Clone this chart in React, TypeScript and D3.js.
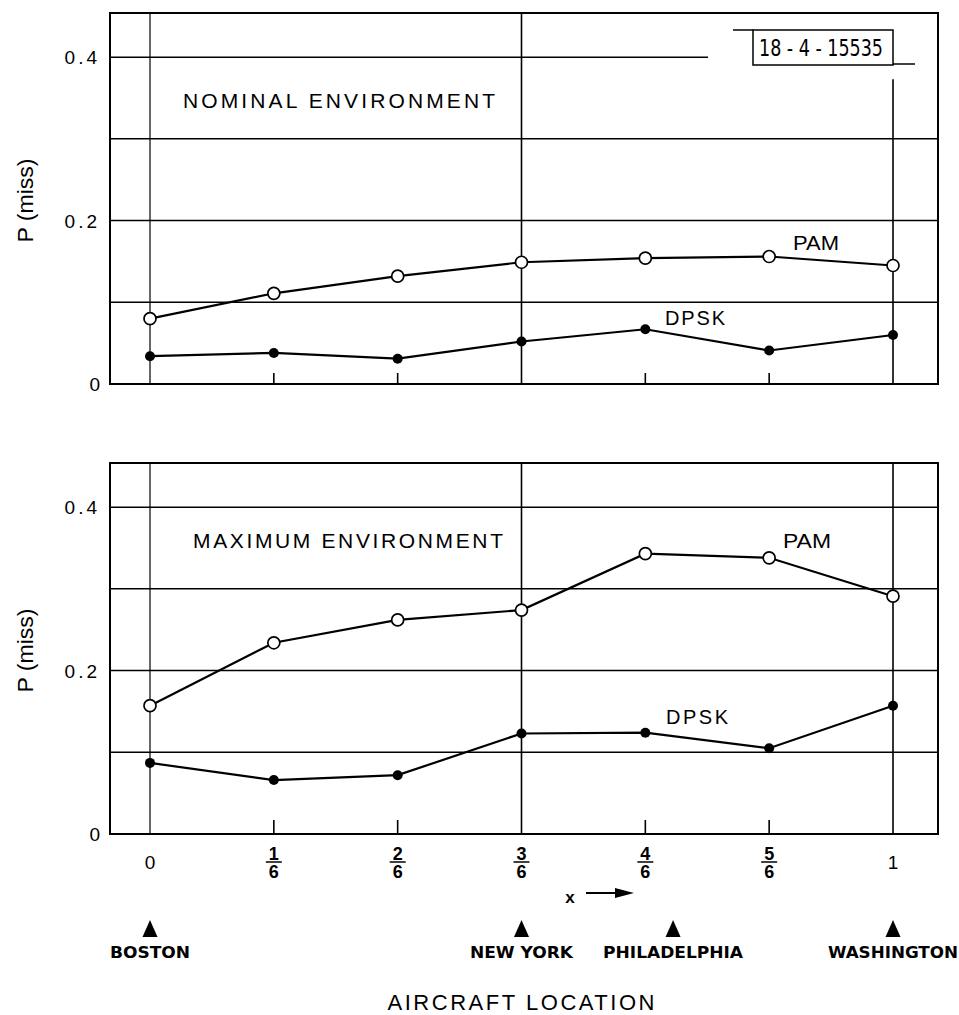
import * as d3 from "d3";

// x positions along the route (fraction of the way Boston -> Washington)
const xValues = [0, 1 / 6, 2 / 6, 3 / 6, 4 / 6, 5 / 6, 1];
const xTickLabels = ["0", "1/6", "2/6", "3/6", "4/6", "5/6", "1"];

const nominalPam = [0.08, 0.111, 0.132, 0.149, 0.154, 0.156, 0.145];
const nominalDpsk = [0.034, 0.038, 0.031, 0.052, 0.067, 0.041, 0.06];
const maximumPam = [0.157, 0.234, 0.262, 0.274, 0.343, 0.338, 0.291];
const maximumDpsk = [0.087, 0.066, 0.072, 0.123, 0.124, 0.105, 0.157];

const yTicks = [0, 0.2, 0.4];
const yTickLabels = ["0", "0.2", "0.4"];
const gridValues = [0.1, 0.2, 0.3, 0.4];

const cityNames = ["BOSTON", "NEW YORK", "PHILADELPHIA", "WASHINGTON"];
const cityPositions = [0, 0.5, 0.704, 1];

const W = 959;
const H = 1015;
const LEFT = 110;
const RIGHT = 938;
const SANS = "'Liberation Sans', Arial, Helvetica, sans-serif";
const NARROW = "'DejaVu Sans Condensed', 'DejaVu Sans', sans-serif";

const x = d3.scaleLinear().domain([0, 1]).range([150, 893]);

type PanelProps = {
  top: number;
  bottom: number;
  title: string;
  titlePos: [number, number, number];
  pam: number[];
  dpsk: number[];
  pamPos: [number, number, number];
  dpskPos: [number, number, number];
  nominal: boolean;
};

const Panel = ({ top, bottom, title, titlePos, pam, dpsk, pamPos, dpskPos, nominal }: PanelProps) => {
  const y = d3.scaleLinear().domain([0, 0.454]).range([bottom, top]);
  const line = d3
    .line<number>()
    .x((_, i) => x(xValues[i]))
    .y((d) => y(d));
  const tickLen = nominal ? 11 : 14;
  const midY = (top + bottom) / 2;

  return (
    <g>
      {/* horizontal grid */}
      {gridValues.map((v) => (
        <line
          key={v}
          x1={LEFT}
          x2={nominal && v === 0.4 ? x(0.751) : RIGHT}
          y1={y(v)}
          y2={y(v)}
          stroke="#000"
          strokeWidth={1.5}
        />
      ))}
      {/* vertical lines at Boston, New York, Washington; short ticks elsewhere */}
      {xValues.map((v, i) =>
        i === 0 || i === 3 || i === 6 ? (
          <line
            key={i}
            x1={x(v)}
            x2={x(v)}
            y1={nominal && i === 6 ? y(0.373) : top}
            y2={bottom}
            stroke="#000"
            strokeWidth={i === 0 ? 1.2 : 1.6}
          />
        ) : (
          <line key={i} x1={x(v)} x2={x(v)} y1={bottom - tickLen} y2={bottom} stroke="#000" strokeWidth={1.6} />
        )
      )}
      <rect x={LEFT} y={top} width={RIGHT - LEFT} height={bottom - top} fill="none" stroke="#000" strokeWidth={2} />

      {yTicks.map((v, i) => (
        <text
          key={v}
          x={100}
          y={y(v) + 7}
          textAnchor="end"
          fontFamily={SANS}
          fontSize={19}
          letterSpacing={v === 0 ? 0 : 3}
        >
          {yTickLabels[i]}
        </text>
      ))}
      <text
        transform={`translate(33, ${midY + 2}) rotate(-90)`}
        textAnchor="middle"
        fontFamily={SANS}
        fontSize={22}
        textLength={84}
        lengthAdjust="spacingAndGlyphs"
      >
        P (miss)
      </text>

      <text x={titlePos[0]} y={titlePos[1]} fontFamily={SANS} fontSize={21} textLength={titlePos[2]} lengthAdjust="spacing">
        {title}
      </text>

      <path d={line(pam) ?? ""} fill="none" stroke="#000" strokeWidth={2.2} />
      <path d={line(dpsk) ?? ""} fill="none" stroke="#000" strokeWidth={2.2} />
      {pam.map((d, i) => (
        <circle key={i} cx={x(xValues[i])} cy={y(d)} r={6} fill="#fff" stroke="#000" strokeWidth={1.7} />
      ))}
      {dpsk.map((d, i) => (
        <circle key={i} cx={x(xValues[i])} cy={y(d)} r={5} fill="#000" />
      ))}
      <text x={pamPos[0]} y={pamPos[1]} fontFamily={SANS} fontSize={20} textLength={pamPos[2]} lengthAdjust="spacingAndGlyphs">
        PAM
      </text>
      <text x={dpskPos[0]} y={dpskPos[1]} fontFamily={SANS} fontSize={20} textLength={dpskPos[2]} lengthAdjust="spacing">
        DPSK
      </text>
    </g>
  );
};

export default function App() {
  const axisBottom = 834;
  return (
    <svg width={W} height={H} viewBox={`0 0 ${W} ${H}`} style={{ position: "absolute", left: 0, top: 0, background: "#fff" }}>
      <rect width={W} height={H} fill="#fff" />
      <Panel
        top={13}
        bottom={384}
        title="NOMINAL ENVIRONMENT"
        titlePos={[183, 108, 312]}
        pam={nominalPam}
        dpsk={nominalDpsk}
        pamPos={[793, 250, 46]}
        dpskPos={[665, 325, 60]}
        nominal
      />
      <Panel
        top={463}
        bottom={834}
        title="MAXIMUM ENVIRONMENT"
        titlePos={[193, 548, 310]}
        pam={maximumPam}
        dpsk={maximumDpsk}
        pamPos={[783, 548, 48]}
        dpskPos={[666, 724, 62]}
        nominal={false}
      />

      {/* drawing number box */}
      <g>
        <line x1={733} x2={753} y1={30} y2={30} stroke="#000" strokeWidth={1.5} />
        <rect x={753} y={30} width={140} height={35} fill="#fff" stroke="#000" strokeWidth={1.5} />
        <line x1={893} x2={915} y1={64} y2={64} stroke="#000" strokeWidth={1.5} />
        <text
          x={821}
          y={56}
          textAnchor="middle"
          fontFamily={NARROW}
          fontStretch="condensed"
          fontSize={23}
          textLength={124}
          lengthAdjust="spacingAndGlyphs"
        >
          18 - 4 - 15535
        </text>
      </g>

      {/* x tick labels */}
      {xValues.map((v, i) => {
        const label = xTickLabels[i];
        const cx = x(v);
        if (!label.includes("/")) {
          return (
            <text key={i} x={cx} y={axisBottom + 35} textAnchor="middle" fontFamily={SANS} fontSize={19}>
              {label}
            </text>
          );
        }
        const [num, den] = label.split("/");
        return (
          <g key={i} fontFamily={SANS} fontSize={18} fontWeight="bold" textAnchor="middle">
            <text x={cx} y={axisBottom + 26}>{num}</text>
            <line x1={cx - 8} x2={cx + 8} y1={axisBottom + 28} y2={axisBottom + 28} stroke="#000" strokeWidth={1.5} />
            <text x={cx} y={axisBottom + 44}>{den}</text>
          </g>
        );
      })}

      {/* x arrow */}
      <text x={570} y={903} textAnchor="middle" fontFamily={SANS} fontSize={17} fontWeight="bold">
        x
      </text>
      <line x1={586} x2={620} y1={893} y2={893} stroke="#000" strokeWidth={1.8} />
      <path d="M615,888 L634,893 L615,898 Z" fill="#000" />

      {/* cities */}
      {cityNames.map((name, i) => {
        const cx = x(cityPositions[i]);
        const widths = [80, 103, 140, 130];
        return (
          <g key={name}>
            <path d={`M${cx},920 L${cx + 7.5},937 L${cx - 7.5},937 Z`} fill="#000" />
            <text
              x={cx}
              y={958}
              textAnchor="middle"
              fontFamily={NARROW}
              fontStretch="condensed"
              fontWeight="bold"
              fontSize={16}
              textLength={widths[i]}
              lengthAdjust="spacingAndGlyphs"
            >
              {name}
            </text>
          </g>
        );
      })}

      <text x={521} y={1010} textAnchor="middle" fontFamily={SANS} fontSize={22} textLength={267} lengthAdjust="spacing">
        AIRCRAFT LOCATION
      </text>
    </svg>
  );
}
